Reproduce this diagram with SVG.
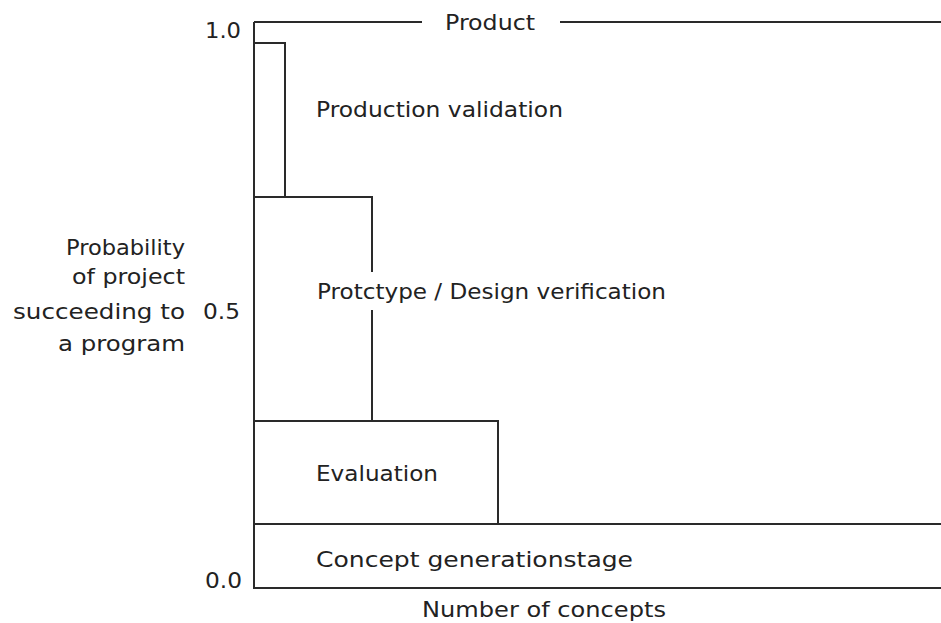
<svg xmlns="http://www.w3.org/2000/svg" width="941" height="623" viewBox="0 0 941 623">
<style>
.l{stroke:#2a2a2a;stroke-width:2;fill:none}
text{font-family:"DejaVu Sans","Liberation Sans",sans-serif;font-size:21px;fill:#222}
</style>
<rect width="941" height="623" fill="#fff"/>
<g id="axes">
<path class="l" d="M254,22V588H941"/>
<path class="l" d="M254,22H422M560,22H941"/>
<text x="445" y="30" textLength="90" lengthAdjust="spacingAndGlyphs">Product</text>
<text x="205" y="38" textLength="36" lengthAdjust="spacingAndGlyphs">1.0</text>
<text x="203" y="319" textLength="37" lengthAdjust="spacingAndGlyphs">0.5</text>
<text x="205" y="588" textLength="37" lengthAdjust="spacingAndGlyphs">0.0</text>
<text x="422" y="617" textLength="244" lengthAdjust="spacingAndGlyphs">Number of concepts</text>
<text x="66" y="255" textLength="119" lengthAdjust="spacingAndGlyphs">Probability</text>
<text x="72" y="284" textLength="113" lengthAdjust="spacingAndGlyphs">of project</text>
<text x="13" y="319" textLength="172" lengthAdjust="spacingAndGlyphs">succeeding to</text>
<text x="58" y="351" textLength="127" lengthAdjust="spacingAndGlyphs">a program</text>
</g>
<g id="production-validation">
<path class="l" d="M254,43H285V197"/>
<text x="316" y="117" textLength="247" lengthAdjust="spacingAndGlyphs">Production validation</text>
</g>
<g id="prototype">
<path class="l" d="M254,197H372V272M372,310V421"/>
<text x="317" y="299" textLength="349" lengthAdjust="spacingAndGlyphs">Protctype / Design verification</text>
</g>
<g id="evaluation">
<path class="l" d="M254,421H498V524"/>
<text x="316" y="481" textLength="122" lengthAdjust="spacingAndGlyphs">Evaluation</text>
</g>
<g id="concept">
<path class="l" d="M254,524H941"/>
<text x="316" y="567" textLength="317" lengthAdjust="spacingAndGlyphs">Concept generationstage</text>
</g>
</svg>
